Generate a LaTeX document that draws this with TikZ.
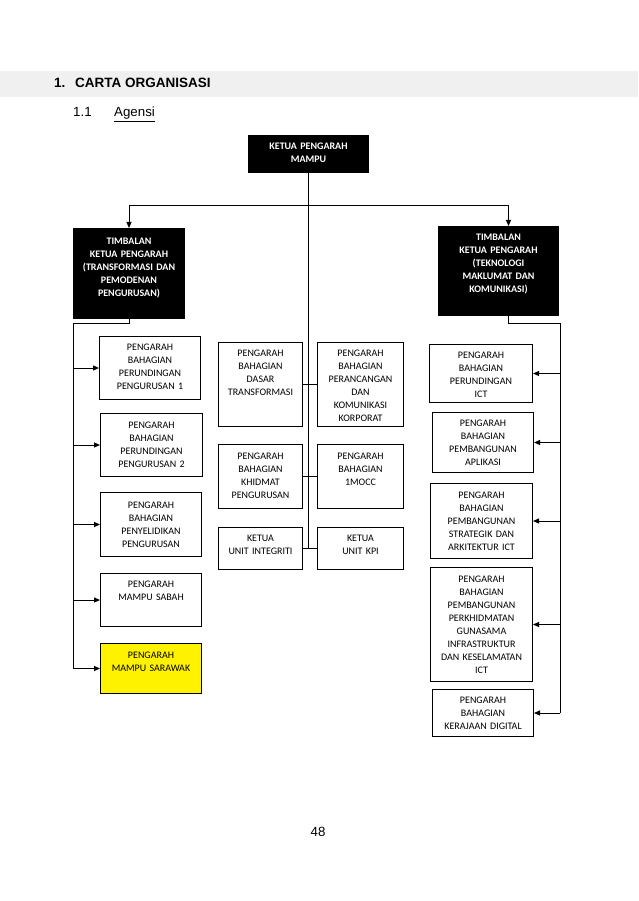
\documentclass[tikz,border=0pt]{standalone}
\usepackage{fontspec}
\setmainfont{Liberation Sans}
\newfontfamily\boxfont{Carlito}
\usetikzlibrary{arrows.meta}

\tikzset{
    unit/.style={draw=black, fill=white, line width=1pt, anchor=north west,
        align=center, inner sep=0pt, text height=14pt,
        font=\boxfont\fontsize{10}{13}\selectfont},
    headunit/.style={unit, fill=black, text=white,
        font=\boxfont\bfseries\fontsize{10}{13}\selectfont},
    link/.style={line width=1pt},
    heading/.style={anchor=base west, inner sep=0pt},
}

\begin{document}
\begin{tikzpicture}[x=1pt, y=-1pt, >={Triangle[length=6pt,width=5pt]}]
        \useasboundingbox (0,0) rectangle (638,901);
        \fill[black!6] (0,71) rectangle (638,97);

        \node[heading, font=\bfseries\fontsize{13.5}{16}\selectfont] (secnum) at (54,88) {1.};
        \node[heading, font=\bfseries\fontsize{13.5}{16}\selectfont] (sectitle) at (75,88) {CARTA ORGANISASI};
        \node[heading, font=\fontsize{13.3}{16}\selectfont] (subnum) at (73,117) {1.1};
        \node[heading, font=\fontsize{13.3}{16}\selectfont] (subtitle) at (114,117) {\underline{Agensi}};
        \node[font=\fontsize{13.3}{16}\selectfont] (pageno) at (318,832) {48};

        \node[headunit, text width=120pt, text depth=23pt] (kp) at (248,135)
            {KETUA PENGARAH\\MAMPU};
        \node[headunit, text width=111pt, text height=16pt, text depth=74pt] (tl) at (73,228)
            {TIMBALAN\\KETUA PENGARAH\\(TRANSFORMASI DAN\\PEMODENAN\\PENGURUSAN)};
        \node[headunit, text width=120pt, text depth=75pt] (tr) at (438,226)
            {TIMBALAN\\KETUA PENGARAH\\(TEKNOLOGI\\MAKLUMAT DAN\\KOMUNIKASI)};

        \node[unit, text width=101pt, text depth=49pt] (rund1) at (99,336)
            {PENGARAH\\BAHAGIAN\\PERUNDINGAN\\PENGURUSAN 1};
        \node[unit, text width=102pt, text height=15pt, text depth=48pt] (rund2) at (100,413)
            {PENGARAH\\BAHAGIAN\\PERUNDINGAN\\PENGURUSAN 2};
        \node[unit, text width=101pt, text height=16pt, text depth=48pt] (selidik) at (100,492)
            {PENGARAH\\BAHAGIAN\\PENYELIDIKAN\\PENGURUSAN};
        \node[unit, text width=101pt, text depth=39pt] (sabah) at (100,573)
            {PENGARAH\\MAMPU SABAH};
        \node[unit, fill=yellow, text width=101pt, text height=15pt, text depth=35pt] (sarawak) at (100,643)
            {PENGARAH\\MAMPU SARAWAK};

        \node[unit, text width=84pt, text depth=70pt] (dasar) at (218,342)
            {PENGARAH\\BAHAGIAN\\DASAR\\TRANSFORMASI};
        \node[unit, text width=86pt, text depth=70pt] (rancang) at (317,342)
            {PENGARAH\\BAHAGIAN\\PERANCANGAN\\DAN\\KOMUNIKASI\\KORPORAT};
        \node[unit, text width=84pt, text height=15pt, text depth=49pt] (khidmat) at (218,444)
            {PENGARAH\\BAHAGIAN\\KHIDMAT\\PENGURUSAN};
        \node[unit, text width=86pt, text height=15pt, text depth=49pt] (mocc) at (317,444)
            {PENGARAH\\BAHAGIAN\\1MOCC};
        \node[unit, text width=84pt, text depth=28pt] (integ) at (218,527)
            {KETUA\\UNIT INTEGRITI};
        \node[unit, text width=86pt, text depth=28pt] (kpi) at (317,527)
            {KETUA\\UNIT KPI};

        \node[unit, text width=103pt, text depth=44pt] (ict) at (429,344)
            {PENGARAH\\BAHAGIAN\\PERUNDINGAN\\ICT};
        \node[unit, text width=101pt, text depth=46pt] (aplikasi) at (432,412)
            {PENGARAH\\BAHAGIAN\\PEMBANGUNAN\\APLIKASI};
        \node[unit, text width=102pt, text height=15pt, text depth=60pt] (strategik) at (430,483)
            {PENGARAH\\BAHAGIAN\\PEMBANGUNAN\\STRATEGIK DAN\\ARKITEKTUR ICT};
        \node[unit, text width=102pt, text height=15pt, text depth=99pt] (gunasama) at (430,567)
            {PENGARAH\\BAHAGIAN\\PEMBANGUNAN\\PERKHIDMATAN\\GUNASAMA\\INFRASTRUKTUR\\DAN KESELAMATAN\\ICT};
        \node[unit, text width=101pt, text depth=33pt] (digital) at (432,689)
            {PENGARAH\\BAHAGIAN\\KERAJAAN DIGITAL};

        \coordinate (hub)  at (308,206);
        \coordinate (lbus) at (73,323);
        \coordinate (rbus) at (560,323);

        \draw[link] (kp.south) -- (kp.south |- kpi.west);
        \draw[link,->] (hub) -| (tl.north);
        \draw[link,->] (hub) -| ([xshift=10pt]tr.north);

        \draw[link] (dasar.east) -- (rancang.west);
        \draw[link] (khidmat.east) -- (mocc.west);
        \draw[link] (integ.east) -- (kpi.west);

        \draw[link] (tl.south) |- (lbus) -- (lbus |- sarawak.west);
        \foreach \n in {rund1,rund2,selidik,sabah,sarawak}
            \draw[link,->] (lbus |- \n.west) -- (\n.west);

        \draw[link] ([xshift=10pt]tr.south) |- (rbus) -- (rbus |- digital.east);
        \foreach \n in {ict,aplikasi,strategik,gunasama,digital}
            \draw[link,->] (rbus |- \n.east) -- (\n.east);
    \end{tikzpicture}
\end{document}
